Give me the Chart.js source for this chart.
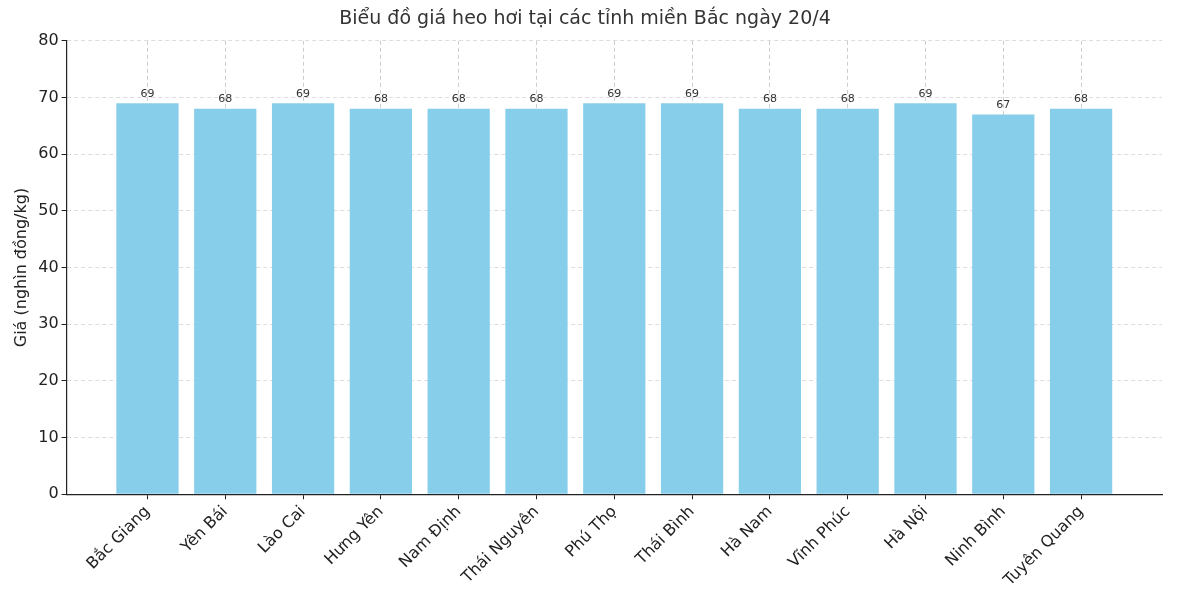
<!DOCTYPE html>
<html><head><meta charset="utf-8">
<script src="https://cdn.jsdelivr.net/npm/chart.js@4"></script>
<style>html,body{margin:0;padding:0;background:#fff}#w{width:1200px;height:595px}</style>
</head><body><div id="w"><canvas id="c"></canvas></div>
<script>
const categories = ["Bắc Giang","Yên Bái","Lào Cai","Hưng Yên","Nam Định","Thái Nguyên","Phú Thọ","Thái Bình","Hà Nam","Vĩnh Phúc","Hà Nội","Ninh Bình","Tuyên Quang"];
const prices = [69,68,69,68,68,68,69,69,68,68,69,67,68];
const yTicks = [0,10,20,30,40,50,60,70,80];

const font = "'DejaVu Sans', sans-serif";
const labelPlugin = {
  id:'lbl',
  afterDatasetsDraw(chart){
    const ctx=chart.ctx, meta=chart.getDatasetMeta(0);
    ctx.save();ctx.font="11px "+font;ctx.fillStyle="#333";ctx.textAlign="center";ctx.textBaseline="bottom";
    meta.data.forEach((b,i)=>ctx.fillText(String(prices[i]),b.x,b.y-4));
    ctx.restore();
  }
};
new Chart(document.getElementById('c'),{
  type:'bar',
  data:{datasets:[{data:prices.map((v,i)=>({x:i,y:v})),backgroundColor:'#87CEEB',borderWidth:0,barPercentage:0.8,categoryPercentage:1}]},
  options:{
    responsive:true,maintainAspectRatio:false,animation:false,
    layout:{padding:{left:8,right:38,top:2,bottom:2}},
    plugins:{legend:{display:false},tooltip:{enabled:false},
      title:{display:true,text:'Biểu đồ giá heo hơi tại các tỉnh miền Bắc ngày 20/4',font:{family:font,size:19,weight:'normal'},color:'#333',padding:{top:6,bottom:10}}},
    scales:{
      x:{type:'linear',min:-1.04,max:13.04,offset:false,
        afterBuildTicks(s){s.ticks=categories.map((_,i)=>({value:i}));},
        ticks:{callback:(v)=>categories[v]??'',minRotation:45,maxRotation:45,autoSkip:false,font:{family:font,size:16},color:'#222'},
        grid:{offset:false,color:'#ccc',drawTicks:true,tickColor:'#222',tickLength:5},
        border:{color:'#222',width:1.2,dash:[4,3]}},
      y:{min:0,max:80,
        afterBuildTicks(s){s.ticks=yTicks.map(v=>({value:v}));},
        ticks:{font:{family:font,size:16},color:'#222'},
        grid:{color:'#ddd',tickColor:'#222',tickLength:5},
        border:{color:'#222',width:1.2,dash:[4,3]},
        title:{display:true,text:'Giá (nghìn đồng/kg)',font:{family:font,size:16},color:'#222'}}
    }
  },
  plugins:[labelPlugin]
});
</script></body></html>
